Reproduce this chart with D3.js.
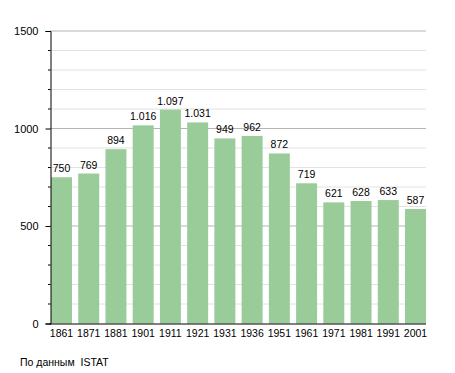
<!DOCTYPE html>
<html>
<head>
<meta charset="utf-8">
<script src="https://cdn.jsdelivr.net/npm/d3@7"></script>
<style>
  body { margin: 0; background: #fff; }
  text { font-family: "Liberation Sans", Arial, sans-serif; fill: #000; }
</style>
</head>
<body>
<svg id="chart" width="455" height="373"></svg>
<script>
// Data
var years = ["1861", "1871", "1881", "1901", "1911", "1921", "1931", "1936", "1951", "1961", "1971", "1981", "1991", "2001"];
var population = [750, 769, 894, 1016, 1097, 1031, 949, 962, 872, 719, 621, 628, 633, 587];
var majorTicks = [0, 500, 1000, 1500];
var minorTicks = d3.range(0, 1501, 100);
var source = "По данным  ISTAT";

var svg = d3.select("#chart");

// Scales
var x = d3.scaleBand().domain(years).range([51, 426]).paddingInner(0.23).paddingOuter(0);
var y = d3.scaleLinear().domain([0, 1500]).range([323.5, 31]);

// minor gridlines
svg.selectAll("line.minor").data(minorTicks.filter(function (d) { return d % 500 != 0; }))
  .enter().append("line")
  .attr("class", "minor")
  .attr("x1", 50).attr("x2", 426)
  .attr("y1", function (d) { return y(d); }).attr("y2", function (d) { return y(d); })
  .attr("stroke", "#e2e2e2").attr("stroke-width", 1);

// major gridlines
svg.selectAll("line.major").data(majorTicks.filter(function (d) { return d > 0; }))
  .enter().append("line")
  .attr("class", "major")
  .attr("x1", 50).attr("x2", 426)
  .attr("y1", function (d) { return y(d); }).attr("y2", function (d) { return y(d); })
  .attr("stroke", "#b4b4b4").attr("stroke-width", 1);

// bars
svg.selectAll("rect.bar").data(population)
  .enter().append("rect")
  .attr("class", "bar")
  .attr("x", function (d, i) { return x(years[i]); })
  .attr("y", function (d) { return y(d); })
  .attr("width", x.bandwidth())
  .attr("height", function (d) { return y(0) - y(d); })
  .attr("fill", "#99cc99");

// value labels (thousands separator is a period)
svg.selectAll("text.value").data(population)
  .enter().append("text")
  .attr("class", "value")
  .attr("x", function (d, i) { return x(years[i]) + x.bandwidth() / 2; })
  .attr("y", function (d) { return y(d) - 5; })
  .attr("text-anchor", "middle")
  .attr("font-size", "10.5px")
  .text(function (d) { return d3.format(",")(d).replace(",", "."); });

// y axis
var yAxis = d3.axisLeft(y).tickValues(majorTicks).tickFormat(d3.format("d")).tickSize(5).tickPadding(7);
var gy = svg.append("g").attr("transform", "translate(50.5,0)").call(yAxis);
gy.select(".domain").attr("stroke", "#000");
gy.selectAll(".tick text").attr("font-size", "11px").attr("font-family", "Liberation Sans, Arial, sans-serif");
gy.selectAll(".tick line").attr("stroke", "#000");
gy.selectAll("line.mtick").data(minorTicks.filter(function (d) { return d % 500 != 0; }))
  .enter().append("line")
  .attr("class", "mtick")
  .attr("x1", -2.5).attr("x2", 0)
  .attr("y1", function (d) { return y(d); }).attr("y2", function (d) { return y(d); })
  .attr("stroke", "#000");

// x axis
var xAxis = d3.axisBottom(x).tickSize(0).tickPadding(6).tickSizeOuter(0);
var gx = svg.append("g").attr("transform", "translate(0," + (y(0) + 0.5) + ")").call(xAxis);
gx.select(".domain").attr("stroke", "#000").attr("d", "M49.5,0H426");
gx.selectAll(".tick text").attr("font-size", "10.5px").attr("font-family", "Liberation Sans, Arial, sans-serif");

// source note
svg.append("text")
  .attr("x", 20).attr("y", 366)
  .attr("font-size", "10.5px")
  .style("white-space", "pre")
  .text(source);
</script>
</body>
</html>
